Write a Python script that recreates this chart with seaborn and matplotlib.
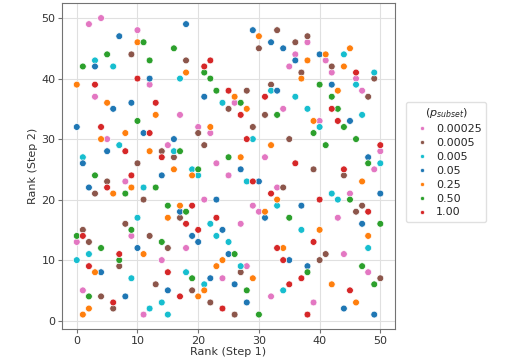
import pandas as pd
import seaborn as sns
import matplotlib.pyplot as plt

# values: (rank step 1, rank step 2) per p_subset
x_00025 = [4, 2, 10, 12, 3, 38, 36, 41, 35, 42, 46, 47, 34, 17, 26, 5, 15, 8, 20, 22, 31, 23, 25,
           33, 21, 29, 30, 40, 50, 49, 45, 43, 9, 0, 14, 1, 11, 27, 18, 28, 24, 32, 44, 48, 39]
y_00025 = [50, 49, 48, 39, 37, 46, 44, 43, 42, 41, 40, 38, 35, 34, 36, 30, 29, 23, 32, 31, 27, 26, 24,
           22, 20, 19, 18, 33, 28, 25, 21, 17, 14, 13, 10, 5, 1, 16, 12, 9, 7, 4, 11, 8, 3]

x_0005 = [9, 33, 30, 18, 28, 25, 31, 32, 38, 36, 42, 37, 49, 48, 14, 16, 10, 5, 3, 11, 29, 20, 21,
          34, 17, 35, 39, 44, 47, 46, 8, 1, 12, 2, 15, 7, 13, 4, 6, 27, 19, 22, 26, 41, 40, 50]
y_0005 = [44, 48, 45, 43, 38, 35, 34, 39, 47, 46, 42, 41, 40, 37, 28, 27, 26, 23, 21, 20, 32, 31, 29,
          22, 17, 30, 25, 24, 19, 18, 16, 15, 14, 13, 12, 9, 6, 4, 2, 8, 5, 3, 1, 11, 10, 7]

x_005 = [3, 6, 17, 32, 24, 44, 49, 46, 36, 38, 47, 7, 16, 1, 11, 10, 29, 19, 20, 28, 33, 40, 50, 42,
         43, 2, 0, 9, 14, 12, 15, 22, 23, 25, 27, 18, 21, 34, 37, 48]
y_005 = [43, 42, 40, 38, 36, 44, 41, 39, 37, 35, 34, 29, 28, 27, 22, 17, 30, 25, 24, 23, 19, 32, 26, 21,
         20, 11, 10, 7, 3, 2, 1, 16, 14, 13, 9, 8, 6, 5, 15, 12]

x_05 = [7, 3, 12, 9, 6, 18, 29, 32, 34, 21, 33, 40, 36, 42, 0, 11, 16, 5, 1, 14, 2, 27, 30, 23, 17,
        31, 45, 48, 50, 37, 10, 4, 15, 8, 24, 19, 20, 25, 22, 26, 28, 47, 35, 38, 44, 49]
y_05 = [47, 42, 40, 36, 35, 49, 48, 46, 45, 37, 38, 44, 43, 39, 32, 31, 30, 28, 26, 24, 22, 25, 23, 20, 18,
        17, 33, 27, 21, 19, 12, 8, 5, 4, 15, 14, 13, 11, 7, 6, 3, 16, 10, 9, 2, 1]

x_25 = [0, 10, 5, 13, 30, 18, 26, 28, 45, 41, 38, 44, 37, 43, 8, 4, 12, 16, 9, 6, 15, 22, 32, 27, 19,
        33, 17, 31, 39, 47, 11, 3, 2, 1, 24, 23, 29, 21, 20, 34, 40, 48, 42, 46]
y_25 = [39, 46, 36, 34, 47, 41, 37, 35, 45, 44, 43, 42, 40, 38, 31, 30, 28, 25, 22, 21, 17, 32, 29, 27, 24,
        20, 19, 18, 33, 23, 11, 8, 2, 1, 10, 9, 7, 5, 4, 12, 15, 14, 6, 3]

x_50 = [11, 16, 5, 12, 1, 21, 22, 23, 27, 33, 40, 42, 43, 10, 3, 13, 8, 15, 17, 25, 20, 18, 44, 39,
        46, 41, 48, 45, 35, 9, 0, 14, 4, 7, 2, 26, 19, 28, 30, 50, 47, 38, 49]
y_50 = [46, 45, 44, 43, 42, 41, 40, 38, 36, 34, 39, 37, 35, 33, 24, 22, 21, 19, 28, 27, 25, 18, 32, 31,
        30, 29, 26, 20, 17, 15, 14, 13, 12, 10, 4, 11, 7, 5, 1, 16, 9, 8, 6]

x_100 = [10, 3, 13, 22, 21, 25, 31, 27, 46, 42, 4, 12, 8, 14, 9, 5, 28, 29, 32, 19, 23, 43, 50, 36,
         44, 40, 48, 1, 7, 2, 15, 6, 18, 20, 33, 34, 17, 24, 39, 37, 35, 45, 38]
y_100 = [40, 39, 36, 43, 42, 38, 37, 34, 41, 35, 32, 31, 28, 27, 24, 22, 30, 23, 21, 19, 17, 33, 29, 26,
         25, 20, 18, 14, 11, 9, 8, 3, 16, 15, 12, 10, 4, 2, 13, 7, 6, 5, 1]

labels = ['0.00025', '0.0005', '0.005', '0.05', '0.25', '0.50', '1.00']
colors = ['#e377c2', '#8c564b', '#17becf', '#1f77b4', '#ff7f0e', '#2ca02c', '#d62728']

xs = [x_00025, x_0005, x_005, x_05, x_25, x_50, x_100]
ys = [y_00025, y_0005, y_005, y_05, y_25, y_50, y_100]

df = pd.concat([pd.DataFrame({'step1': x, 'step2': y, 'p': lab})
                for x, y, lab in zip(xs, ys, labels)], ignore_index=True)

sns.set_style('whitegrid')

fig = plt.figure(figsize=(5.09, 3.6), dpi=100)
ax = fig.add_axes([0.121, 0.085, 0.656, 0.906])

sns.scatterplot(data=df, x='step1', y='step2', hue='p', hue_order=labels,
                palette=colors, s=24, edgecolor='white', linewidth=0.5, ax=ax)

ax.set_xticks([0, 10, 20, 30, 40, 50])
ax.set_yticks([0, 10, 20, 30, 40, 50])
ax.tick_params(bottom=True, left=True, labelsize=8, colors='0.2', length=3, pad=1.5)
ax.tick_params(color='0.45')
ax.set_xlabel('Rank (Step 1)', fontsize=8, color='0.2', labelpad=1)
ax.set_ylabel('Rank (Step 2)', fontsize=8, color='0.2', labelpad=2)
for sp in ax.spines.values():
    sp.set_color('0.45')
ax.grid(color='0.88')

leg = ax.legend(title='($p_{subset}$)', loc='upper left', bbox_to_anchor=(1.015, 0.715),
                fontsize=8, title_fontsize=8, markerscale=0.6, labelspacing=0.35,
                handletextpad=0.3, borderpad=0.4, frameon=True)
leg.get_frame().set_edgecolor('0.85')

fig.savefig('out.png', dpi=100)
